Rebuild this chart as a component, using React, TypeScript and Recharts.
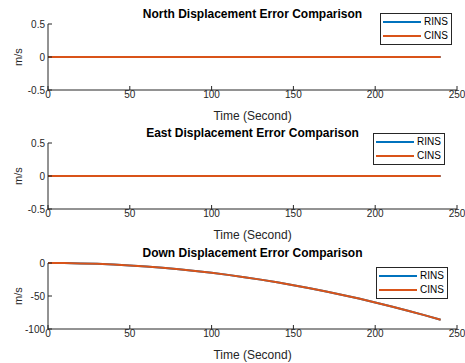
import { LineChart, Line, XAxis, YAxis, Legend } from "recharts";

// time stamps (s)
const time = [0, 10, 20, 30, 40, 50, 60, 70, 80, 90, 100, 110, 120, 130, 140, 150, 160, 170, 180, 190, 200, 210, 220, 230, 240];

const northRins = [0, 0, 0, 0, 0, 0, 0, 0, 0, 0, 0, 0, 0, 0, 0, 0, 0, 0, 0, 0, 0, 0, 0, 0, 0];
const northCins = [0, 0, 0, 0, 0, 0, 0, 0, 0, 0, 0, 0, 0, 0, 0, 0, 0, 0, 0, 0, 0, 0, 0, 0, 0];
const eastRins = [0, 0, 0, 0, 0, 0, 0, 0, 0, 0, 0, 0, 0, 0, 0, 0, 0, 0, 0, 0, 0, 0, 0, 0, 0];
const eastCins = [0, 0, 0, 0, 0, 0, 0, 0, 0, 0, 0, 0, 0, 0, 0, 0, 0, 0, 0, 0, 0, 0, 0, 0, 0];
const downRins = [0, -0.1, -0.6, -1.3, -2.4, -3.7, -5.4, -7.3, -9.6, -12.1, -14.9, -18, -21.5, -25.2, -29.3, -33.6, -38.2, -43.1, -48.4, -53.9, -59.7, -65.8, -72.3, -79, -86];
const downCins = [0, -0.1, -0.6, -1.3, -2.4, -3.7, -5.4, -7.3, -9.6, -12.1, -14.9, -18, -21.5, -25.2, -29.3, -33.6, -38.2, -43.1, -48.4, -53.9, -59.7, -65.8, -72.3, -79, -86];

const seriesNames = ["RINS", "CINS"];
const xTicks = [0, 50, 100, 150, 200, 250];
const smallTicks = [-0.5, 0, 0.5];
const downTicks = [-100, -50, 0];

const AXIS = "#262626";
const BLUE = "#0072BD";
const ORANGE = "#D95319";

function buildRows(rins: number[], cins: number[]) {
  return time.map((t, i) => ({ t, rins: rins[i], cins: cins[i] }));
}

function LegendBox(props: any) {
  const items = [...(props.payload || [])].sort(
    (a: any, b: any) => seriesNames.indexOf(a.value) - seriesNames.indexOf(b.value)
  );
  return (
    <div
      style={{
        border: `1px solid ${AXIS}`,
        background: "#fff",
        padding: "1px 3px 1px 2px",
        fontSize: 10,
        lineHeight: "14px",
        color: "#000",
      }}
    >
      {items.map((it: any) => (
        <div key={it.value} style={{ display: "flex", alignItems: "center" }}>
          <span style={{ display: "inline-block", width: 38, height: 2, background: it.color, marginRight: 3 }} />
          <span>{it.value}</span>
        </div>
      ))}
    </div>
  );
}

interface PanelProps {
  top: number;
  marginTop: number;
  title: string;
  titleTop: number;
  rins: number[];
  cins: number[];
  yDomain: [number, number];
  yTicks: number[];
  legendPos: { left: number; top: number };
}

function Panel({ top, marginTop, title, titleTop, rins, cins, yDomain, yTicks, legendPos }: PanelProps) {
  const data = buildRows(rins, cins);
  const plotH = 66;
  const axisH = 36;
  return (
    <>
      <div
        style={{
          position: "absolute",
          top: titleTop,
          left: 48,
          width: 409,
          textAlign: "center",
          fontSize: 12,
          fontWeight: "bold",
          lineHeight: "14px",
          color: "#000",
        }}
      >
        {title}
      </div>
      <div style={{ position: "absolute", top, left: 0 }}>
        <LineChart
          width={465}
          height={marginTop + plotH + axisH}
          data={data}
          margin={{ top: marginTop, right: 8, left: 0, bottom: 0 }}
        >
          <XAxis
            dataKey="t"
            type="number"
            domain={[0, 250]}
            ticks={xTicks}
            height={axisH}
            tickSize={-4}
            tickMargin={5}
            stroke={AXIS}
            tick={{ fill: AXIS, fontSize: 10 }}
            label={{ value: "Time (Second)", position: "insideBottom", offset: 6, fill: AXIS, fontSize: 12 }}
          />
          <XAxis
            xAxisId="top"
            orientation="top"
            dataKey="t"
            type="number"
            domain={[0, 250]}
            ticks={xTicks}
            height={0}
            tickSize={-4}
            tickFormatter={() => ""}
            stroke={AXIS}
          />
          <YAxis
            type="number"
            domain={yDomain}
            ticks={yTicks}
            width={48}
            tickSize={-4}
            tickMargin={7}
            stroke={AXIS}
            tick={{ fill: AXIS, fontSize: 10 }}
            label={{ value: "m/s", angle: -90, position: "center", dx: -6, fill: AXIS, fontSize: 11 }}
          />
          <YAxis
            yAxisId="right"
            orientation="right"
            type="number"
            domain={yDomain}
            ticks={yTicks}
            width={0}
            tickSize={-4}
            tickFormatter={() => ""}
            stroke={AXIS}
          />
          <Legend
            layout="horizontal"
            verticalAlign="middle"
            align="center"
            content={<LegendBox />}
            wrapperStyle={{ position: "absolute", left: legendPos.left, top: legendPos.top, width: "auto" }}
          />
          <Line dataKey="rins" name="RINS" stroke={BLUE} strokeWidth={2} dot={false} isAnimationActive={false} />
          <Line dataKey="cins" name="CINS" stroke={ORANGE} strokeWidth={2} dot={false} isAnimationActive={false} />
        </LineChart>
      </div>
    </>
  );
}

export default function App() {
  return (
    <div
      style={{
        position: "absolute",
        top: 0,
        left: 0,
        width: 465,
        height: 363,
        background: "#fff",
        fontFamily: "'Liberation Sans', Arial, sans-serif",
        overflow: "hidden",
      }}
    >
      <Panel
        top={0}
        marginTop={24}
        title="North Displacement Error Comparison"
        titleTop={7}
        rins={northRins}
        cins={northCins}
        yDomain={[-0.5, 0.5]}
        yTicks={smallTicks}
        legendPos={{ left: 380, top: 13 }}
      />
      <Panel
        top={120}
        marginTop={23}
        title="East Displacement Error Comparison"
        titleTop={126}
        rins={eastRins}
        cins={eastCins}
        yDomain={[-0.5, 0.5]}
        yTicks={smallTicks}
        legendPos={{ left: 373, top: 13 }}
      />
      <Panel
        top={240}
        marginTop={23}
        title="Down Displacement Error Comparison"
        titleTop={246}
        rins={downRins}
        cins={downCins}
        yDomain={[-100, 0]}
        yTicks={downTicks}
        legendPos={{ left: 376, top: 27 }}
      />
    </div>
  );
}
